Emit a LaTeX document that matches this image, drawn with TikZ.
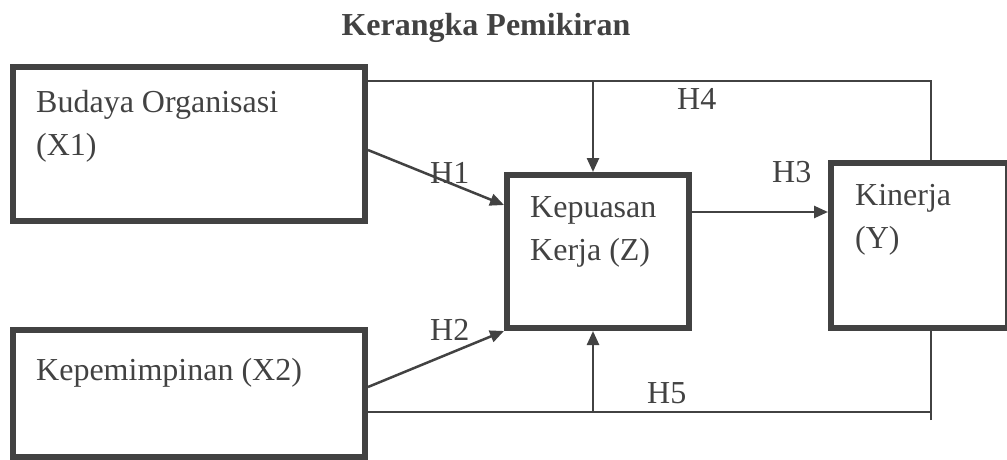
\documentclass[tikz,border=0pt]{standalone}
\usepackage{fontspec}
\setmainfont{Liberation Serif}
\usetikzlibrary{arrows.meta}
\definecolor{dk}{rgb}{0.26,0.26,0.26}
\begin{document}
\begin{tikzpicture}[x=1pt,y=-1pt,
  box/.style={draw=dk,line width=6pt,rectangle,inner sep=0pt},
  txt/.style={anchor=base west,inner sep=0pt,text=dk,font=\fontsize{32}{43}\selectfont},
  link/.style={draw=dk,line width=2pt},
  arr/.style={draw=dk,line width=2.5pt,-{Triangle[length=14pt,width=12pt]}}]
\useasboundingbox (0,0) rectangle (1007,460);
% title
\node[anchor=base,inner sep=0pt,text=dk,font=\fontsize{32}{43}\selectfont\bfseries] (title) at (486,36) {Kerangka Pemikiran};
% boxes
\node[box,minimum width=352pt,minimum height=154pt] (x1) at (189,144) {};
\node[box,minimum width=352pt,minimum height=127pt] (x2) at (189,393.5) {};
\node[box,minimum width=182pt,minimum height=153pt] (z) at (598,251.5) {};
\node[box,minimum width=177pt,minimum height=165pt] (y) at (919.5,245.5) {};
% texts
\node[txt] (t1a) at (36,112) {Budaya Organisasi};
\node[txt] (t1b) at (36,155) {(X1)};
\node[txt] (t2) at (36,380) {Kepemimpinan (X2)};
\node[txt] (tza) at (530,217) {Kepuasan};
\node[txt] (tzb) at (530,260) {Kerja (Z)};
\node[txt] (tya) at (855,205) {Kinerja};
\node[txt] (tyb) at (855,248) {(Y)};
% coordinates
\coordinate (a1) at (368,81);
\coordinate (a2) at (931,81);
\coordinate (a3) at (593,81);
\coordinate (b1) at (368,412);
\coordinate (b2) at (931,412);
\coordinate (b3) at (593,412);
\coordinate (b4) at (931,420);
\coordinate (h1s) at (368,150);
\coordinate (h2s) at (368,387);
% connectors
\draw[link] (a1) -- (a2) -- (a2 |- y.north);
\draw[arr] (a3) -- (a3 |- z.north);
\draw[arr] (h1s) -- (z.north west |- 0,205);
\draw[arr] (h2s) -- (z.south west);
\draw[arr] (z.east |- 0,212) -- (y.west |- 0,212);
\draw[link] (b1) -- (b2);
\draw[link] (b4) -- (b4 |- y.south);
\draw[arr] (b3) -- (b3 |- z.south);
% labels
\node[txt] (h1) at (430,183) {H1};
\node[txt] (h2) at (430,340) {H2};
\node[txt] (h3) at (772,182) {H3};
\node[txt] (h4) at (677,110) {H4};
\node[txt] (h5) at (647,403) {H5};
\end{tikzpicture}
\end{document}
